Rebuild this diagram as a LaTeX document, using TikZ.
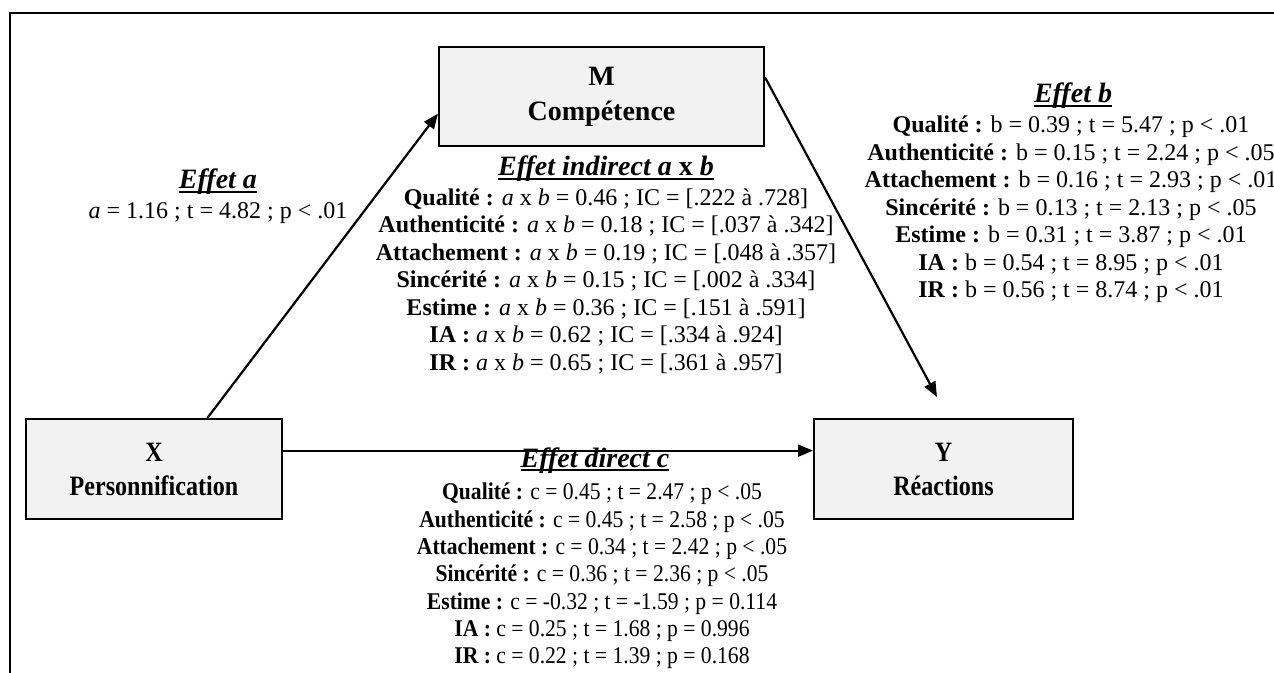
\documentclass[tikz,border=0pt]{standalone}
\usepackage{fontspec}
\setmainfont{Liberation Serif}
\newfontfamily\narrowserif[FakeStretch=0.9]{Liberation Serif}
\newfontfamily\boxserif[FakeStretch=0.86]{Liberation Serif}
\usepackage{tikz}
\usetikzlibrary{arrows.meta,positioning,calc}
\definecolor{boxgray}{RGB}{242,242,242}
\newcommand{\efftitle}[1]{\setbox0\hbox{\bfseries\itshape #1}\rlap{\rule[-1.8pt]{\wd0}{0.9pt}}\box0}
\newcommand{\lbl}[1]{\textbf{#1 :}}
\newcommand{\axb}{\textit{a} x \textit{b}}

\begin{document}
\begin{tikzpicture}[x=0.5pt, y=-0.5pt, >={Triangle[length=7.5pt,width=6pt]},
    varbox/.style={draw, line width=1pt, fill=boxgray, align=center, inner sep=0pt,
      font=\fontsize{14pt}{17.5pt}\selectfont\bfseries},
    xybox/.style={varbox, minimum width=128pt, minimum height=50pt,
      font=\boxserif\fontsize{14pt}{17pt}\selectfont\bfseries},
    effhead/.style={inner sep=0pt, anchor=base, font=\fontsize{14pt}{16pt}\selectfont},
    effbody/.style={inner sep=0pt, align=center, font=\fontsize{12pt}{13.75pt}\selectfont},
    linkarrow/.style={->, line width=1.1pt}]
        \useasboundingbox (0,0) rectangle (1274,673);

        % Frame
        \draw[line width=1.2pt] (10,673) -- (10,13) -- (1274,13);

        % Variables
        \node[varbox, minimum width=162.5pt, minimum height=49.5pt] (M) at (601.5,96.5) {M\\Compétence};
        \node[xybox] (X) at (154,469) {X\\Personnification};
        \node[xybox, minimum width=129.5pt] (Y) at (943.5,469) {Y\\Réactions};
        \coordinate (yin) at (937,397);

        % Paths
        \draw[linkarrow] ($(X.north west)!0.707!(X.north east)$) -- ($(M.north west)!0.67!(M.south west)$);
        \draw[linkarrow] ($(M.north east)!0.31!(M.south east)$) -- (yin);
        \draw[linkarrow] ($(X.north east)!0.32!(X.south east)$) -- ($(Y.north west)!0.32!(Y.south west)$);

        % Effet a
        \node[effhead] (ta) at (218,189) {\efftitle{Effet a}};
        \node[effbody] (ba) at (218,213) {\textit{a} = 1.16 ; t = 4.82 ; p < .01};

        % Effet indirect
        \node[effhead] (tab) at (606,176) {\efftitle{Effet indirect a {\upshape x} b}};
        \node[effbody] (bab) at (606,281.5) {\lbl{Qualité} \axb{} = 0.46 ; IC = [.222 à .728]\\
            \lbl{Authenticité} \axb{} = 0.18 ; IC = [.037 à .342]\\
            \lbl{Attachement} \axb{} = 0.19 ; IC = [.048 à .357]\\
            \lbl{Sincérité} \axb{} = 0.15 ; IC = [.002 à .334]\\
            \lbl{Estime} \axb{} = 0.36 ; IC = [.151 à .591]\\
            \lbl{IA} \axb{} = 0.62 ; IC = [.334 à .924]\\
            \lbl{IR} \axb{} = 0.65 ; IC = [.361 à .957]};

        % Effet b
        \node[effhead] (tb) at (1073,103) {\efftitle{Effet b}};
        \node[effbody] (bb) at (1071,209.5) {\lbl{Qualité} b = 0.39 ; t = 5.47 ; p < .01\\
            \lbl{Authenticité} b = 0.15 ; t = 2.24 ; p < .05\\
            \lbl{Attachement} b = 0.16 ; t = 2.93 ; p < .01\\
            \lbl{Sincérité} b = 0.13 ; t = 2.13 ; p < .05\\
            \lbl{Estime} b = 0.31 ; t = 3.87 ; p < .01\\
            \lbl{IA} b = 0.54 ; t = 8.95 ; p < .01\\
            \lbl{IR} b = 0.56 ; t = 8.74 ; p < .01};

        % Effet direct
        \node[effhead] (tc) at (595,467) {\efftitle{Effet direct c}};
        \node[effbody, font=\narrowserif\fontsize{12pt}{13.65pt}\selectfont] (bc) at (602,576) {\lbl{Qualité} c = 0.45 ; t = 2.47 ; p < .05\\
            \lbl{Authenticité} c = 0.45 ; t = 2.58 ; p < .05\\
            \lbl{Attachement} c = 0.34 ; t = 2.42 ; p < .05\\
            \lbl{Sincérité} c = 0.36 ; t = 2.36 ; p < .05\\
            \lbl{Estime} c = -0.32 ; t = -1.59 ; p = 0.114\\
            \lbl{IA} c = 0.25 ; t = 1.68 ; p = 0.996\\
            \lbl{IR} c = 0.22 ; t = 1.39 ; p = 0.168};
\end{tikzpicture}
\end{document}
